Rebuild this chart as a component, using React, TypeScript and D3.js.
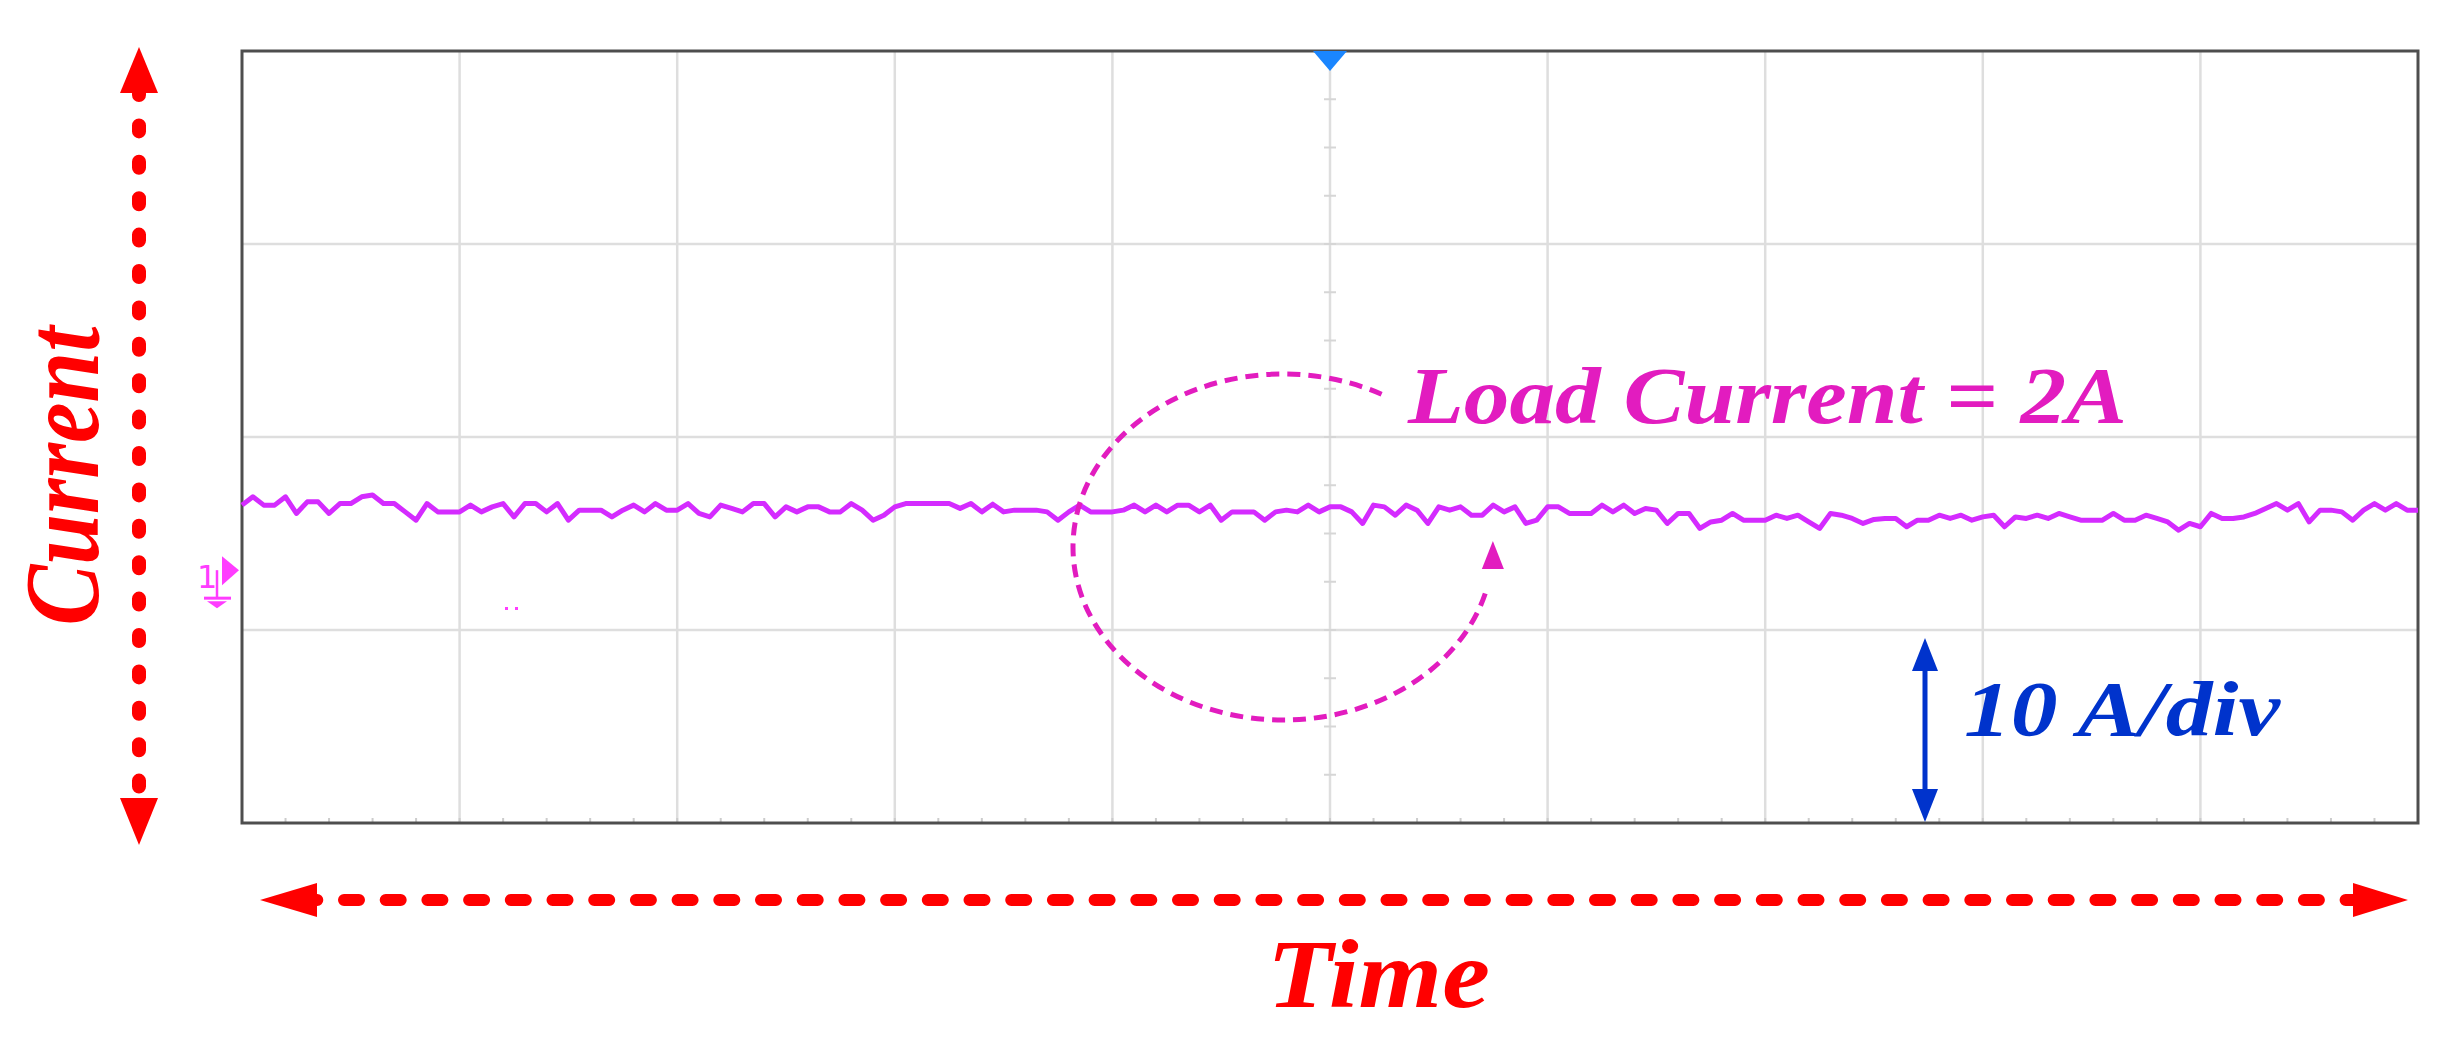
import React from "react";
import * as d3 from "d3";

// ---------------- data ----------------
const timeDomainDiv: [number, number] = [0, 10]; // horizontal divisions
const currentDomainA: [number, number] = [-13.1, 26.9]; // amps relative to channel-1 ground
const sampleStepDiv = 0.05;
const traceCurrentA: number[] = [
  3.37, 3.8, 3.37, 3.37, 3.8, 2.94, 3.54, 3.54, 2.94, 3.45,
  3.45, 3.8, 3.89, 3.45, 3.45, 3.02, 2.59, 3.45, 3.02, 3.02,
  3.02, 3.37, 3.02, 3.28, 3.45, 2.76, 3.45, 3.45, 3.02, 3.45,
  2.59, 3.11, 3.11, 3.11, 2.76, 3.11, 3.37, 3.02, 3.45, 3.11,
  3.11, 3.45, 2.94, 2.76, 3.37, 3.2, 3.02, 3.45, 3.45, 2.76,
  3.28, 3.02, 3.28, 3.28, 3.02, 3.02, 3.45, 3.11, 2.59, 2.85,
  3.28, 3.45, 3.45, 3.45, 3.45, 3.45, 3.2, 3.45, 3.02, 3.42,
  3.02, 3.11, 3.11, 3.11, 3.02, 2.59, 3.02, 3.37, 3.02, 3.02,
  3.02, 3.11, 3.37, 3.02, 3.37, 3.02, 3.37, 3.37, 3.02, 3.37,
  2.59, 3.02, 3.02, 3.02, 2.59, 3.02, 3.11, 3.02, 3.37, 3.02,
  3.28, 3.28, 3.02, 2.42, 3.37, 3.28, 2.85, 3.37, 3.11, 2.42,
  3.28, 3.11, 3.28, 2.85, 2.85, 3.37, 3.02, 3.28, 2.42, 2.59,
  3.28, 3.28, 2.94, 2.94, 2.94, 3.37, 3.02, 3.37, 2.94, 3.2,
  3.11, 2.42, 2.94, 2.94, 2.16, 2.5, 2.59, 2.94, 2.59, 2.59,
  2.59, 2.85, 2.68, 2.85, 2.5, 2.16, 2.94, 2.85, 2.68, 2.42,
  2.63, 2.68, 2.68, 2.25, 2.59, 2.59, 2.85, 2.68, 2.85, 2.59,
  2.76, 2.85, 2.25, 2.76, 2.68, 2.85, 2.68, 2.94, 2.76, 2.59,
  2.59, 2.59, 2.94, 2.59, 2.59, 2.85, 2.68, 2.5, 2.07, 2.42,
  2.25, 2.94, 2.68, 2.68, 2.76, 2.94, 3.2, 3.45, 3.11, 3.45,
  2.5, 3.11, 3.11, 3.02, 2.59, 3.11, 3.45, 3.11, 3.45, 3.11, 3.11,
];
const xLabel = "Time";
const yLabel = "Current";
const annotationLabel = "Load Current = 2A";
const scaleLabel = "10 A/div";
const channelLabel = "1";
const verticalDivisions = 4;
const horizontalDivisions = 10;

// ---------------- layout ----------------
const W = 2445;
const H = 1047;
const plot = { left: 242, right: 2418, top: 51, bottom: 823 };
const serif = "'Liberation Serif', 'Times New Roman', serif";

export default function App() {
  const x = d3.scaleLinear().domain(timeDomainDiv).range([plot.left, plot.right]);
  const y = d3.scaleLinear().domain(currentDomainA).range([plot.bottom, plot.top]);

  const points: [number, number][] = traceCurrentA.map((v, i) => [i * sampleStepDiv, v]);
  const line = d3
    .line<[number, number]>()
    .x((d) => x(d[0]))
    .y((d) => y(d[1]));

  const divH = (plot.bottom - plot.top) / verticalDivisions;
  const vGrid = d3.range(1, horizontalDivisions).map((i) => x(i));
  const hGrid = d3.range(1, verticalDivisions).map((i) => plot.top + i * divH);
  const cx = x(5);
  const centerTicks = d3.range(1, verticalDivisions * 4).map((i) => plot.top + (i * divH) / 4);
  const bottomTicks = d3.range(1, horizontalDivisions * 5).map((i) => x(i / 5));

  const gnd = y(0);

  // annotation loop (ellipse)
  const ecx = 1283, ecy = 547, erx = 210, ery = 173;
  const pt = (deg: number) => {
    const r = (deg * Math.PI) / 180;
    return [ecx + erx * Math.cos(r), ecy + ery * Math.sin(r)];
  };
  const s = pt(-62);
  const mid = pt(-200);
  const e = pt(-345);
  const loopPath = `M${s[0]},${s[1]} A${erx},${ery} 0 0 0 ${mid[0]},${mid[1]} A${erx},${ery} 0 0 0 ${e[0]},${e[1]}`;
  const tip = pt(-362);

  const red = "#ff0000";
  const magenta = "#e21cbf";
  const blue = "#0033cc";

  return (
    <svg
      width={W}
      height={H}
      viewBox={`0 0 ${W} ${H}`}
      style={{ position: "absolute", left: 0, top: 0, background: "#ffffff" }}
    >
      <rect x={0} y={0} width={W} height={H} fill="#ffffff" />
      {/* grid */}
      {vGrid.map((gx, i) => (
        <line key={"v" + i} x1={gx} x2={gx} y1={plot.top} y2={plot.bottom} stroke="#dedede" strokeWidth={2.5} />
      ))}
      {hGrid.map((gy, i) => (
        <line key={"h" + i} x1={plot.left} x2={plot.right} y1={gy} y2={gy} stroke="#dedede" strokeWidth={2.5} />
      ))}
      {centerTicks.map((ty, i) => (
        <line key={"ct" + i} x1={cx - 6} x2={cx + 6} y1={ty} y2={ty} stroke="#d6d6d6" strokeWidth={2} />
      ))}
      {bottomTicks.map((tx, i) => (
        <line key={"bt" + i} x1={tx} x2={tx} y1={plot.bottom - 5} y2={plot.bottom} stroke="#cccccc" strokeWidth={2} />
      ))}
      {/* frame */}
      <rect
        x={plot.left}
        y={plot.top}
        width={plot.right - plot.left}
        height={plot.bottom - plot.top}
        fill="none"
        stroke="#4e4e4e"
        strokeWidth={3}
      />
      {/* trigger marker */}
      <path d={`M${cx - 17},${plot.top} L${cx + 17},${plot.top} L${cx},${plot.top + 20} Z`} fill="#1a86ff" />

      {/* trace */}
      <path d={line(points) || ""} fill="none" stroke="#d42bff" strokeWidth={5} strokeLinejoin="round" />

      {/* channel-1 ground marker */}
      <g fill="#ff3cff" stroke="none">
        <text x={197} y={588} fontFamily="'DejaVu Sans', sans-serif" fontSize={32} fill="#ff3cff">
          {channelLabel}
        </text>
        <path d={`M222,${gnd - 14} L239,${gnd} L222,${gnd + 15} Z`} />
        <line x1={217} x2={217} y1={gnd} y2={gnd + 27} stroke="#ff3cff" strokeWidth={2.5} />
        <line x1={204} x2={231} y1={gnd + 28} y2={gnd + 28} stroke="#ff3cff" strokeWidth={3} />
        <path d={`M207,${gnd + 31} L227,${gnd + 31} L217,${gnd + 38} Z`} />
        <rect x={505} y={607} width={3} height={3} />
        <rect x={515} y={607} width={3} height={3} />
      </g>

      {/* annotation loop */}
      <path d={loopPath} fill="none" stroke={magenta} strokeWidth={5} strokeDasharray="13 8" />
      <path
        d={`M${tip[0]},${tip[1]} L${tip[0] - 11},${tip[1] + 28} L${tip[0] + 11},${tip[1] + 28} Z`}
        fill={magenta}
      />
      <text
        x={1408}
        y={423}
        fontFamily={serif}
        fontWeight="bold"
        fontStyle="italic"
        fontSize={80}
        fill={magenta}
        textLength={719}
        lengthAdjust="spacingAndGlyphs"
      >
        {annotationLabel}
      </text>

      {/* scale indicator */}
      <line x1={1925} x2={1925} y1={660} y2={800} stroke={blue} strokeWidth={5} />
      <path d="M1925,638 L1912,671 L1938,671 Z" fill={blue} />
      <path d="M1925,822 L1912,789 L1938,789 Z" fill={blue} />
      <text
        x={1964}
        y={735}
        fontFamily={serif}
        fontWeight="bold"
        fontStyle="italic"
        fontSize={79}
        fill={blue}
        textLength={316}
        lengthAdjust="spacingAndGlyphs"
      >
        {scaleLabel}
      </text>

      {/* vertical axis arrow */}
      <line x1={139} x2={139} y1={89} y2={790} stroke={red} strokeWidth={14} strokeLinecap="round" strokeDasharray="6 30.4" />
      <path d="M139,47 L120,93 L158,93 Z" fill={red} />
      <path d="M139,845 L120,798 L158,798 Z" fill={red} />
      <text
        transform="translate(98,476) rotate(-90)"
        textAnchor="middle"
        fontFamily={serif}
        fontWeight="bold"
        fontStyle="italic"
        fontSize={106}
        fill={red}
        textLength={299}
        lengthAdjust="spacingAndGlyphs"
      >
        {yLabel}
      </text>

      {/* horizontal axis arrow */}
      <line x1={302.3} x2={2358} y1={900} y2={900} stroke={red} strokeWidth={12} strokeLinecap="round" strokeDasharray="15 26.7" />
      <path d="M260,900 L317,883 L317,917 Z" fill={red} />
      <path d="M2408,900 L2353,883 L2353,917 Z" fill={red} />
      <text
        x={1267}
        y={1007}
        fontFamily={serif}
        fontWeight="bold"
        fontStyle="italic"
        fontSize={97}
        fill={red}
        textLength={223}
        lengthAdjust="spacingAndGlyphs"
      >
        {xLabel}
      </text>
    </svg>
  );
}
